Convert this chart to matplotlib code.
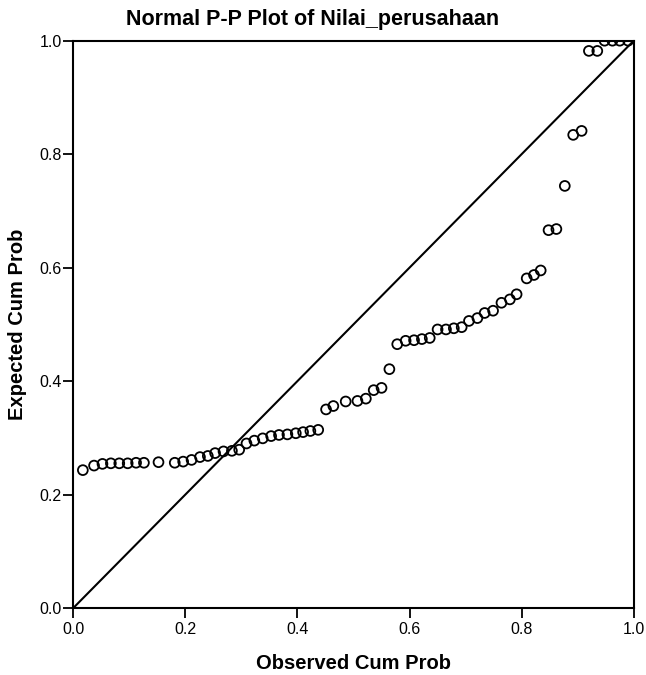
import matplotlib
matplotlib.use("Agg")
import matplotlib.pyplot as plt

plt.rcParams['font.family'] = ['Liberation Sans', 'DejaVu Sans']

# observed vs expected cumulative probabilities
observed = [0.017, 0.037, 0.052, 0.067, 0.082, 0.097, 0.112, 0.126, 0.152, 0.181,
            0.196, 0.211, 0.226, 0.240, 0.253, 0.268, 0.283, 0.296, 0.309, 0.323,
            0.338, 0.353, 0.367, 0.382, 0.397, 0.410, 0.423, 0.437, 0.451, 0.464,
            0.486, 0.507, 0.522, 0.536, 0.550, 0.564, 0.578, 0.593, 0.608, 0.622,
            0.636, 0.650, 0.665, 0.679, 0.693, 0.706, 0.721, 0.734, 0.749, 0.764,
            0.779, 0.791, 0.809, 0.822, 0.834, 0.848, 0.862, 0.877, 0.892, 0.907,
            0.920, 0.935, 0.948, 0.962, 0.975, 0.990]
expected = [0.243, 0.251, 0.254, 0.255, 0.255, 0.255, 0.256, 0.256, 0.257, 0.256,
            0.258, 0.261, 0.266, 0.268, 0.273, 0.276, 0.277, 0.279, 0.290, 0.295,
            0.299, 0.303, 0.305, 0.306, 0.308, 0.310, 0.312, 0.314, 0.350, 0.356,
            0.364, 0.365, 0.369, 0.384, 0.388, 0.421, 0.465, 0.471, 0.472, 0.474,
            0.476, 0.491, 0.491, 0.493, 0.495, 0.506, 0.511, 0.520, 0.524, 0.538,
            0.544, 0.553, 0.581, 0.587, 0.595, 0.666, 0.668, 0.744, 0.834, 0.841,
            0.982, 0.982, 1.0, 1.0, 1.0, 1.0]
ticks = [0.0, 0.2, 0.4, 0.6, 0.8, 1.0]
tick_labels = ['0.0', '0.2', '0.4', '0.6', '0.8', '1.0']

fig = plt.figure(figsize=(6.46, 6.75), dpi=100)
ax = fig.add_axes([0.1135, 0.0993, 0.8675, 0.8404])

ax.plot([0, 1], [0, 1], color='black', lw=1.5)
ax.scatter(observed, expected, s=50, facecolors='none', edgecolors='black', linewidths=1.3, zorder=3)

ax.set_xlim(0, 1)
ax.set_ylim(0, 1)
ax.set_xticks(ticks)
ax.set_xticklabels(tick_labels)
ax.set_yticks(ticks)
ax.set_yticklabels(tick_labels)
ax.tick_params(direction='out', length=7, width=1.3, labelsize=11.5, pad=1.5)
ax.tick_params(axis='x', pad=3)
for sp in ax.spines.values():
    sp.set_linewidth(1.5)

ax.set_xlabel('Observed Cum Prob', fontsize=14.5, fontweight='bold', labelpad=12)
ax.set_ylabel('Expected Cum Prob', fontsize=14.5, fontweight='bold', labelpad=9)
fig.text(313 / 646, 1 - 20 / 675, 'Normal P-P Plot of Nilai_perusahaan',
         fontsize=15.5, fontweight='bold', ha='center', va='center')

fig.savefig('out.png', dpi=100)
